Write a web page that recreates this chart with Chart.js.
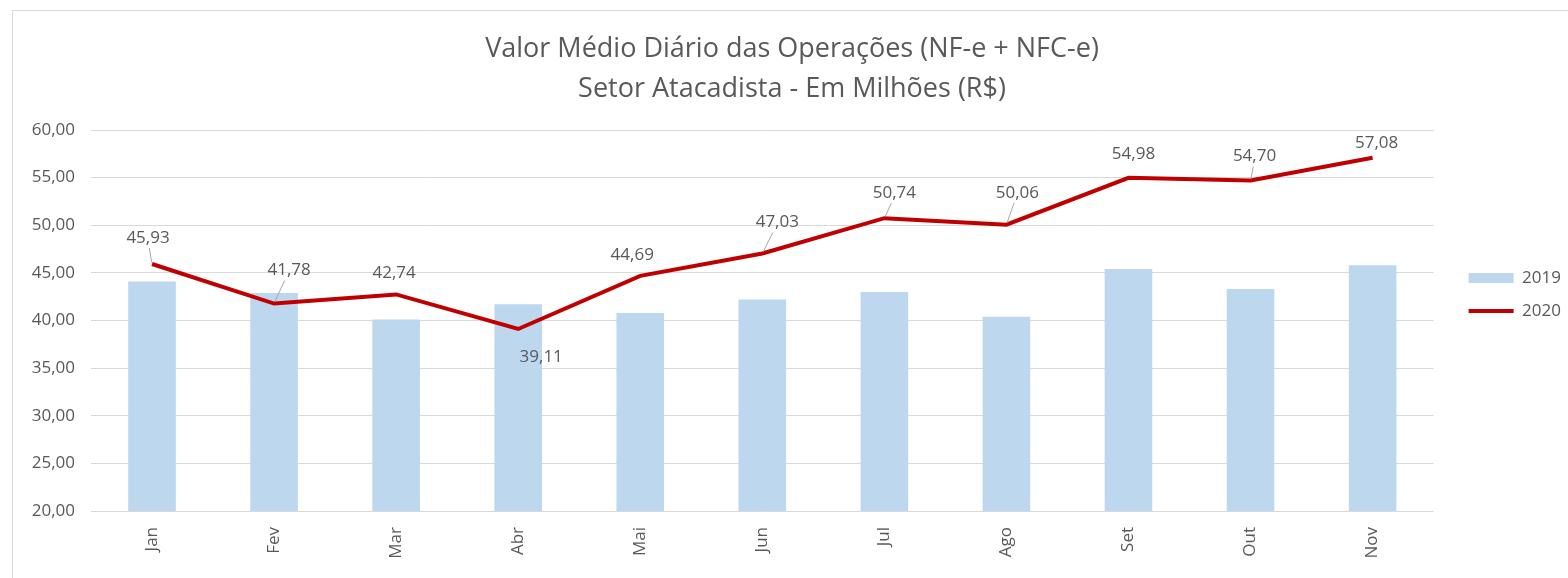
<!DOCTYPE html>
<html><head><meta charset="utf-8">
<script src="https://cdn.jsdelivr.net/npm/chart.js@4/dist/chart.umd.min.js"></script>
<style>
html,body{margin:0;padding:0;background:#fff;overflow:hidden;width:1568px;height:578px}
#frame{position:absolute;left:12px;top:10px;width:1600px;height:620px;border-left:1px solid #d9d9d9;border-top:1px solid #d9d9d9}
canvas{position:absolute;left:0;top:0}
</style></head><body>
<div id="frame"><canvas id="c" width="1567" height="567"></canvas></div>
<script>
const categories = ['Jan','Fev','Mar','Abr','Mai','Jun','Jul','Ago','Set','Out','Nov'];
const values2019 = [44.1, 42.9, 40.1, 41.7, 40.8, 42.2, 43.0, 40.4, 45.4, 43.3, 45.8];
const values2020 = [45.93, 41.78, 42.74, 39.11, 44.69, 47.03, 50.74, 50.06, 54.98, 54.70, 57.08];
const seriesNames = ['2019', '2020'];
const titleLines = ['Valor Médio Diário das Operações (NF-e + NFC-e)', 'Setor Atacadista - Em Milhões (R$)'];
const yMin = 20, yMax = 60, yStep = 5;

// label placement (style): [dx, dy, leader]
const labelPlacement = [[-4,-26,true],[15,-33,true],[-2,-21,false],[23,28,false],[-8,-21,false],[15,-31,true],[10,-25,true],[11,-32,true],[5,-24,false],[4,-24,true],[4,-15,false]];

const fmt = v => v.toFixed(2).replace('.', ',');
const FONT = "'Open Sans', sans-serif";
const GREY = '#595959';

const dataLabels = {
  id: 'dataLabels',
  afterDatasetsDraw(chart) {
    const meta = chart.getDatasetMeta(1);
    const ctx = chart.ctx;
    ctx.save();
    ctx.font = "17px " + FONT;
    ctx.fillStyle = GREY;
    ctx.textAlign = 'center';
    ctx.textBaseline = 'middle';
    meta.data.forEach((pt, i) => {
      const [dx, dy, leader] = labelPlacement[i];
      const lx = pt.x + dx, ly = pt.y + dy;
      if (leader) {
        ctx.beginPath();
        ctx.strokeStyle = '#a6a6a6';
        ctx.lineWidth = 1;
        const sx = lx - dx * 0.3, sy = ly + 10;
        const vx = pt.x - sx, vy = pt.y - sy, d = Math.hypot(vx, vy);
        ctx.moveTo(sx, sy);
        ctx.lineTo(pt.x - vx / d * 2, pt.y - vy / d * 2);
        ctx.stroke();
      }
      ctx.fillText(fmt(chart.data.datasets[1].data[i]), lx, ly);
    });
    ctx.restore();
  }
};

new Chart(document.getElementById('c'), {
  data: {
    labels: categories,
    datasets: [
      { type: 'bar', label: seriesNames[0], data: values2019, backgroundColor: '#BDD7EE', borderWidth: 0,
        barPercentage: 0.39, categoryPercentage: 1, order: 1, pointStyle: 'rect' },
      { type: 'line', label: seriesNames[1], data: values2020, borderColor: '#C00000', backgroundColor: '#C00000',
        borderWidth: 4, pointRadius: 0, tension: 0, order: 0, pointStyle: 'line' }
    ]
  },
  options: {
    responsive: false,
    animation: false,
    layout: { padding: { left: 0, right: 9, top: 0, bottom: 0 } },
    plugins: {
      title: {
        display: true, text: titleLines, color: GREY,
        font: { family: FONT, size: 27, weight: 'normal', lineHeight: 40/27 },
        padding: { top: 18, bottom: 21 }
      },
      legend: {
        position: 'right',
        labels: {
          usePointStyle: true, pointStyleWidth: 45, boxHeight: 10, padding: 16,
          color: GREY, font: { family: FONT, size: 17 },
          sort: (a, b) => a.datasetIndex - b.datasetIndex
        }
      },
      tooltip: { enabled: false }
    },
    scales: {
      x: {
        grid: { display: false },
        border: { display: false },
        ticks: { color: GREY, font: { family: FONT, size: 17 }, minRotation: 90, maxRotation: 90, padding: 8 },
        afterFit(s) { s.height = 67; }
      },
      y: {
        min: yMin, max: yMax,
        grid: { color: '#d9d9d9', drawTicks: false, lineWidth: 1 },
        border: { display: false },
        ticks: { stepSize: yStep, color: GREY, font: { family: FONT, size: 17 }, padding: 16, callback: v => fmt(v) },
        afterFit(s) { s.width = 78; }
      },
      gap: {
        type: 'linear', position: 'right', display: true,
        grid: { display: false }, border: { display: false }, ticks: { display: false },
        afterFit(s) { s.width = 19; }
      }
    }
  },
  plugins: [dataLabels]
});
</script>
</body></html>
